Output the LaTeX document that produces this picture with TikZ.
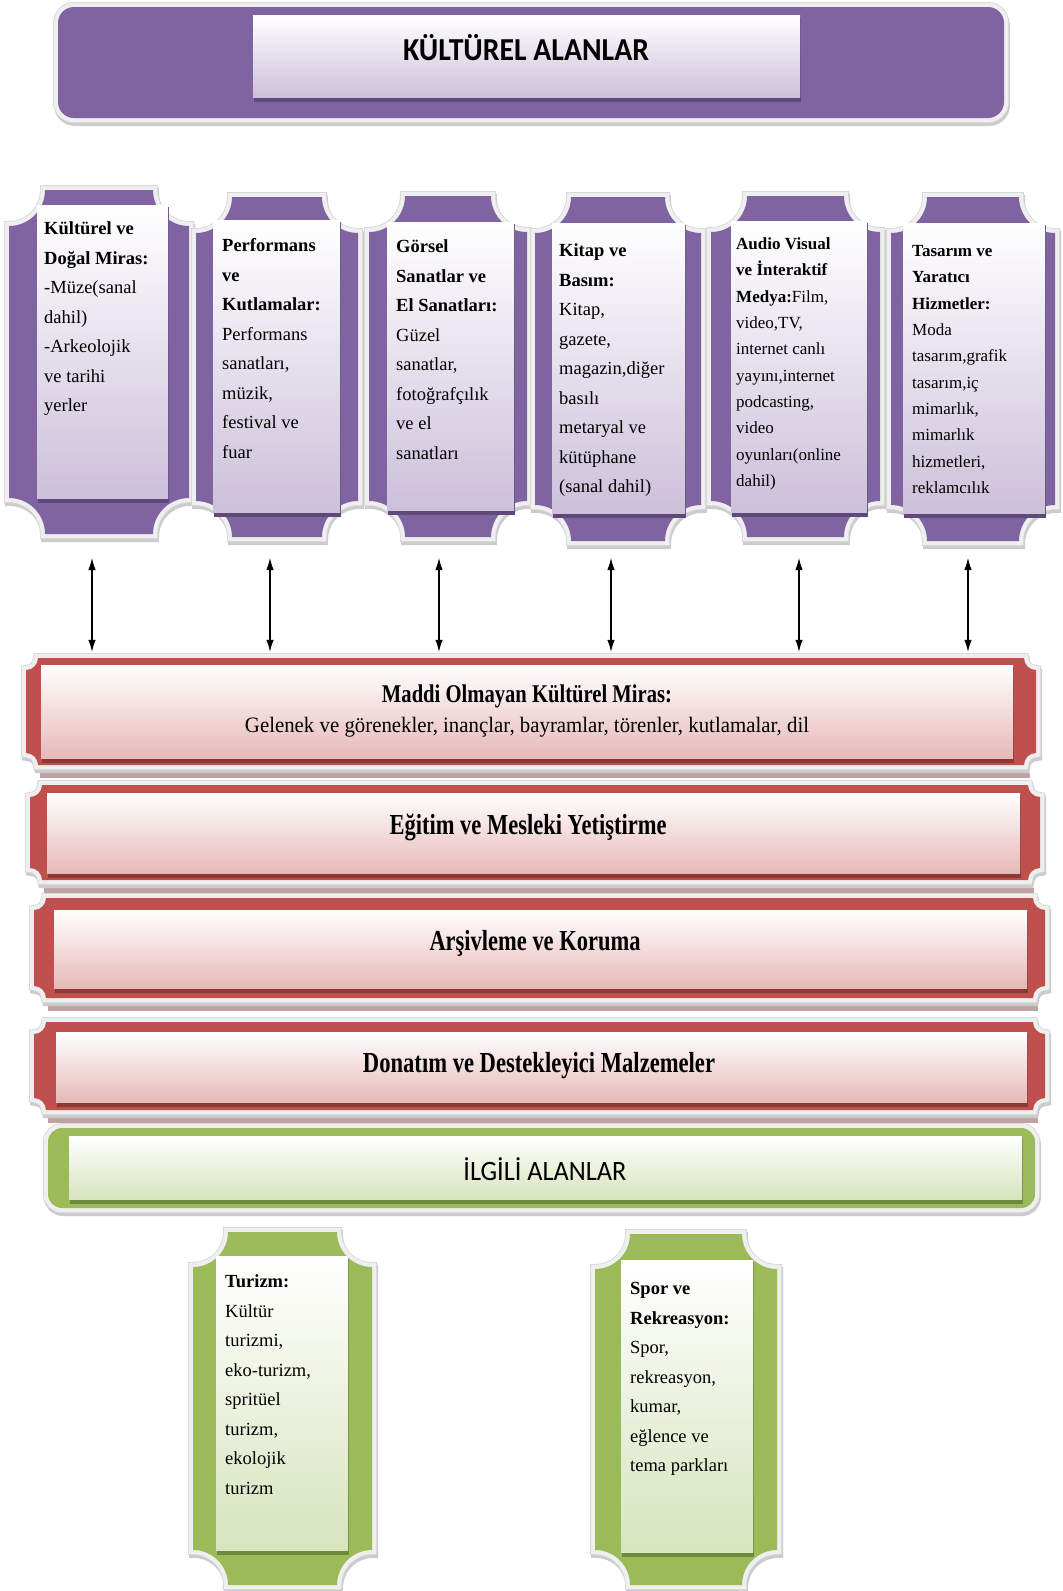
\documentclass[tikz,border=0pt]{standalone}
\usepackage{fontspec}
\setmainfont{Liberation Serif}
\newfontfamily\carlito{Carlito}
\usepackage{graphicx}
\usetikzlibrary{arrows.meta}

\definecolor{pur}{HTML}{8064A2}
\definecolor{purL}{HTML}{CCC0DA}
\definecolor{purD}{HTML}{5F497A}
\definecolor{redC}{HTML}{C0504D}
\definecolor{redL}{HTML}{E6B9B8}
\definecolor{redD}{HTML}{8C3836}
\definecolor{grn}{HTML}{9BBB59}
\definecolor{grnL}{HTML}{D7E4BD}
\definecolor{grnD}{HTML}{6F8A3C}
\definecolor{frameC}{HTML}{EFEFEF}
\definecolor{reflR}{HTML}{BFA3A3}

% concave-corner plaque path: x0 y0 x1 y1 r (y measured downward)
\newcommand\plq[5]{({#1+#5},{-(#2)}) -- ({#3-#5},{-(#2)}) arc[start angle=180,end angle=270,radius=#5pt] -- ({#3},{-(#4)+#5}) arc[start angle=90,end angle=180,radius=#5pt] -- ({#1+#5},{-(#4)}) arc[start angle=0,end angle=90,radius=#5pt] -- ({#1},{-(#2)-#5}) arc[start angle=270,end angle=360,radius=#5pt] -- cycle}

\newcommand\drawplaque[6]{%
  \filldraw[black!20, line width=10pt, xshift=1pt, yshift=-3pt] \plq{#1}{#2}{#3}{#4}{#5};
  \draw[black!16, line width=10pt] \plq{#1}{#2}{#3}{#4}{#5};
  \draw[frameC, line width=8.4pt] \plq{#1}{#2}{#3}{#4}{#5};
  \fill[#6] \plq{#1}{#2}{#3}{#4}{#5};
}
\newcommand\drawrounded[6]{%
  \filldraw[black!20, line width=10pt, rounded corners=#5pt, xshift=1pt, yshift=-3pt] ({#1},{-(#2)}) rectangle ({#3},{-(#4)});
  \draw[black!16, line width=10pt, rounded corners=#5pt] ({#1},{-(#2)}) rectangle ({#3},{-(#4)});
  \draw[frameC, line width=8.4pt, rounded corners=#5pt] ({#1},{-(#2)}) rectangle ({#3},{-(#4)});
  \fill[#6, rounded corners=#5pt] ({#1},{-(#2)}) rectangle ({#3},{-(#4)});
}
\newcommand\innerbox[6]{%
  \fill[#6] ({#1+1},{-(#2)-2}) rectangle ({#3+1},{-(#4)-5});
  \shade[top color=white, bottom color=#5] ({#1},{-(#2)}) rectangle ({#3},{-(#4)});
}
\newcommand\fitw[2]{\resizebox{#1}{\height}{#2}}

\tikzset{
  coltext/.style={anchor=north west, inner sep=0pt, align=left, font=\fontsize{18.5}{29.5}\selectfont},
  coltexts/.style={anchor=north west, inner sep=0pt, align=left, font=\fontsize{17}{26.3}\selectfont},
  bartext/.style={anchor=base, inner sep=0pt},
  dblarrow/.style={{Latex[length=12pt,width=7.5pt]}-{Latex[length=12pt,width=7.5pt]}, line width=1.1pt, black},
  area/.style={inner sep=0pt, minimum width=#1, draw=none},
}

\begin{document}
\begin{tikzpicture}[x=1pt,y=1pt]
\fill[white] (0,0) rectangle (1063,-1591);
\useasboundingbox (0,0) rectangle (1063,-1591);

% ---------- title banner ----------
\drawrounded{58}{7}{1004}{118}{16}{pur}
\innerbox{253}{15}{800}{97}{purL}{purD}
\node[bartext] (title) at (526,-60) {\fitw{246pt}{\carlito\fontsize{32}{36}\selectfont\bfseries KÜLTÜREL ALANLAR}};

% ---------- columns ----------
\drawplaque{9}{190}{189}{534}{36}{pur}
\innerbox{37}{205}{168}{498}{purL}{purD}
\drawplaque{196}{197}{358}{537}{36}{pur}
\innerbox{213}{220}{340}{512}{purL}{purD}
\drawplaque{369}{196}{527}{537}{36}{pur}
\innerbox{387}{222}{514}{510}{purL}{purD}
\drawplaque{535}{197}{701}{541}{36}{pur}
\innerbox{552}{223}{685}{513}{purL}{purD}
\drawplaque{711}{196}{880}{537}{36}{pur}
\innerbox{731}{221}{867}{512}{purL}{purD}
\drawplaque{891}{197}{1055}{541}{36}{pur}
\innerbox{903}{223}{1045}{513}{purL}{purD}

\node[coltext] (c1) at (44,-214) {\strut\textbf{Kültürel ve}\\\textbf{Doğal Miras:}\\-Müze(sanal\\dahil)\\-Arkeolojik\\ve tarihi\\yerler};
\node[coltext] (c2) at (222,-231) {\strut\textbf{Performans}\\\textbf{ve}\\\textbf{Kutlamalar:}\\Performans\\sanatları,\\müzik,\\festival ve\\fuar};
\node[coltext] (c3) at (396,-232) {\strut\textbf{Görsel}\\\textbf{Sanatlar ve}\\\textbf{El Sanatları:}\\Güzel\\sanatlar,\\fotoğrafçılık\\ve el\\sanatları};
\node[coltext] (c4) at (559,-236) {\strut\textbf{Kitap ve}\\\textbf{Basım:}\\Kitap,\\gazete,\\magazin,diğer\\basılı\\metaryal ve\\kütüphane\\(sanal dahil)};
\node[coltexts] (c5) at (736,-231) {\strut\textbf{Audio Visual}\\\textbf{ve İnteraktif}\\\textbf{Medya:}Film,\\video,TV,\\internet canlı\\yayını,internet\\podcasting,\\video\\oyunları(online\\dahil)};
\node[coltexts] (c6) at (912,-238) {\strut\textbf{Tasarım ve}\\\textbf{Yaratıcı}\\\textbf{Hizmetler:}\\Moda\\tasarım,grafik\\tasarım,iç\\mimarlık,\\mimarlık\\hizmetleri,\\reklamcılık};

% ---------- red bars ----------
\fill[reflR] (40,-773) rectangle (1030,-778);
\fill[reflR] (44,-888) rectangle (1034,-893);
\fill[reflR] (48,-1006) rectangle (1038,-1011);
\fill[reflR] (48,-1118) rectangle (1038,-1123);

\drawplaque{26}{658}{1036}{765}{12}{redC}
\innerbox{41}{665}{1013}{758}{redL}{redD}
\drawplaque{30}{785}{1040}{880}{12}{redC}
\innerbox{47}{793}{1020}{873}{redL}{redD}
\drawplaque{34}{898}{1045}{998}{12}{redC}
\innerbox{54}{910}{1027}{988}{redL}{redD}
\drawplaque{34}{1022}{1045}{1110}{12}{redC}
\innerbox{56}{1032}{1027}{1102}{redL}{redD}

\node[area=1017pt, minimum height=117pt] (bar1) at (531,-710.5) {};

\node[bartext] (b1a) at (527,-702) {\fitw{290pt}{\fontsize{25.5}{30}\selectfont\bfseries Maddi Olmayan Kültürel Miras:}};
\node[bartext] (b1b) at (527,-732) {\fitw{564pt}{\fontsize{22}{26}\selectfont Gelenek ve görenekler, inançlar, bayramlar, törenler, kutlamalar, dil}};
\node[bartext] (b2) at (528,-834) {\fitw{277pt}{\fontsize{29}{32}\selectfont\bfseries Eğitim ve Mesleki Yetiştirme}};
\node[bartext] (b3) at (535,-950) {\fitw{211pt}{\fontsize{29}{32}\selectfont\bfseries Arşivleme ve Koruma}};
\node[bartext] (b4) at (539,-1072) {\fitw{352pt}{\fontsize{29}{32}\selectfont\bfseries Donatım ve Destekleyici Malzemeler}};

% ---------- arrows ----------
\coordinate (a1) at (92,-558);
\coordinate (a2) at (270,-558);
\coordinate (a3) at (439,-558);
\coordinate (a4) at (611,-558);
\coordinate (a5) at (799,-558);
\coordinate (a6) at (968,-558);
\foreach \i in {1,...,6} \draw[dblarrow] (a\i) -- (a\i |- bar1.north);

% ---------- related areas ----------
\drawrounded{48}{1128}{1035}{1208}{14}{grn}
\innerbox{69}{1136}{1022}{1199}{grnL}{grnD}
\node[bartext] (ilgili) at (545,-1180) {\fitw{163pt}{\carlito\fontsize{28}{32}\selectfont İLGİLİ ALANLAR}};

\drawplaque{193}{1232}{372}{1585}{35}{grn}
\innerbox{216}{1256}{348}{1550}{grnL}{grnD}
\drawplaque{595}{1234}{777}{1585}{35}{grn}
\innerbox{621}{1260}{753}{1552}{grnL}{grnD}

\node[coltext] (tur) at (225,-1267) {\strut\textbf{Turizm:}\\Kültür\\turizmi,\\eko-turizm,\\spritüel\\turizm,\\ekolojik\\turizm};
\node[coltext] (spor) at (630,-1274) {\strut\textbf{Spor ve}\\\textbf{Rekreasyon:}\\Spor,\\rekreasyon,\\kumar,\\eğlence ve\\tema parkları};
\end{tikzpicture}
\end{document}
